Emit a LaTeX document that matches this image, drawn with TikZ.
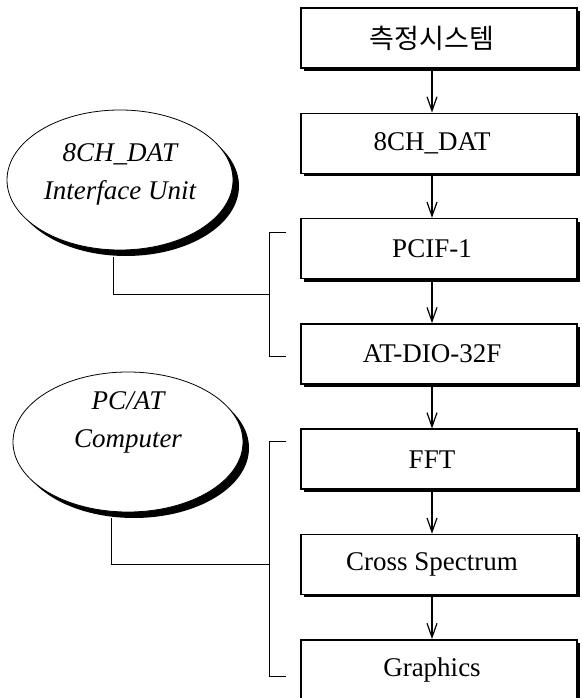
\documentclass[tikz,border=0pt]{standalone}
\usepackage{fontspec}
\setmainfont{Liberation Serif}
\newfontfamily\krfont{Noto Sans CJK KR}
\usetikzlibrary{positioning, shapes.geometric, shadows, arrows.meta, calc}

\begin{document}
\begin{tikzpicture}[x=1pt, y=1pt,
    stagebox/.style={draw, rectangle, line width=1.5pt, fill=white, minimum width=276pt, minimum height=60pt, inner sep=0pt,
        font=\fontsize{27}{32}\selectfont, execute at begin node=\hspace*{-14pt},
        drop shadow={shadow xshift=3pt, shadow yshift=-3pt, fill=black, opacity=1}},
    unitellipse/.style={draw, ellipse, line width=0.8pt, fill=white, inner sep=0pt,
        drop shadow={shadow xshift=6pt, shadow yshift=-6pt, fill=black, opacity=1}},
    unittext/.style={align=center, font=\fontsize{27}{38}\selectfont\itshape},
    flowarrow/.style={-{Straight Barb[length=14pt, width=10pt, line width=1.2pt]}, line width=1.5pt},
    bracket/.style={line width=1pt}
]
    \useasboundingbox (0,0) rectangle (581,698);

    % Processing chain, one stage per box
    \node[stagebox] (measure) at (439,660) {\krfont 측정시스템};
    \node[stagebox, below=43.8pt of measure] (dat) {8CH\_DAT};
    \node[stagebox, below=43.8pt of dat] (pcif) {PCIF-1};
    \node[stagebox, below=43.8pt of pcif] (atdio) {AT-DIO-32F};
    \node[stagebox, below=43.8pt of atdio] (fft) {FFT};
    \node[stagebox, below=43.8pt of fft] (cross) {Cross Spectrum};
    \node[stagebox, below=43.8pt of cross] (graphics) {Graphics};

    % Arrows between the stages, in line with the labels
    \draw[flowarrow] ([xshift=-7pt]measure.south) -- ([xshift=-7pt]dat.north);
    \draw[flowarrow] ([xshift=-7pt]dat.south) -- ([xshift=-7pt]pcif.north);
    \draw[flowarrow] ([xshift=-7pt]pcif.south) -- ([xshift=-7pt]atdio.north);
    \draw[flowarrow] ([xshift=-7pt]atdio.south) -- ([xshift=-7pt]fft.north);
    \draw[flowarrow] ([xshift=-7pt]fft.south) -- ([xshift=-7pt]cross.north);
    \draw[flowarrow] ([xshift=-7pt]cross.south) -- ([xshift=-7pt]graphics.north);

    % Hardware units on the left
    \node[unitellipse, minimum width=226pt, minimum height=140pt,
        label={[unittext, yshift=6pt]center:8CH\_DAT\\Interface Unit}] (iface) at (120,518) {};
    \node[unitellipse, minimum width=230pt, minimum height=140pt,
        label={[unittext, yshift=20pt]center:PC/AT\\Computer}] (pcat) at (128,256) {};

    % Bracket grouping PCIF-1 and AT-DIO-32F
    \coordinate (ifacetop) at ($(pcif.west)+(-14,16)$);
    \coordinate (ifacebot) at ($(atdio.west)+(-14,-3)$);
    \coordinate (ifacejoint) at ($(ifacetop)!0.5!(ifacebot)+(-17,0)$);
    \draw[bracket] (ifacetop) -- ++(-17,0) |- (ifacebot);
    \draw[bracket] ([xshift=-7pt, yshift=-7pt]iface.south) |- (ifacejoint);

    % Bracket grouping the software stages
    \coordinate (pcattop) at ($(fft.west)+(-14,18)$);
    \coordinate (pcatbot) at ($(graphics.west)+(-14,-7)$);
    \coordinate (pcatjoint) at ($(cross.west)+(-31,0)$);
    \draw[bracket] (pcattop) -- ++(-17,0) |- (pcatbot);
    \draw[bracket] ([xshift=-17pt, yshift=-6pt]pcat.south) |- (pcatjoint);
\end{tikzpicture}
\end{document}
